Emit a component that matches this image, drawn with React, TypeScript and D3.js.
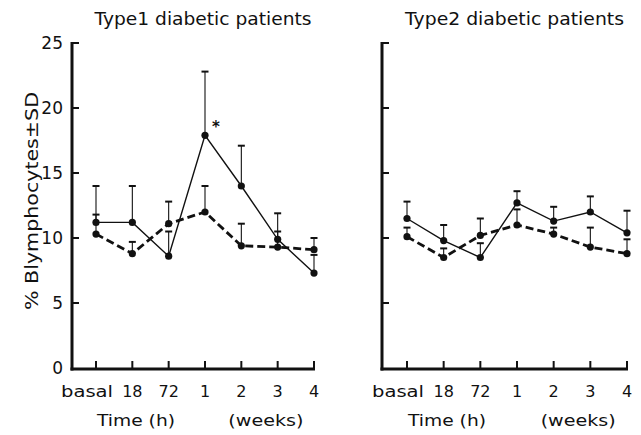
import React from "react";
import * as d3 from "d3";

const categories = ["basal", "18", "72", "1", "2", "3", "4"];
const yTicks = [0, 5, 10, 15, 20, 25];

// Type 1 panel
const t1SolidMean = [11.2, 11.2, 8.6, 17.9, 14.0, 9.9, 7.3];
const t1SolidTop = [14.0, 14.0, 10.5, 22.8, 17.1, 11.9, 8.7];
const t1DashMean = [10.3, 8.8, 11.1, 12.0, 9.4, 9.3, 9.1];
const t1DashTop = [11.8, 9.7, 12.8, 14.0, 11.1, 10.5, 10.0];

// Type 2 panel
const t2SolidMean = [11.5, 9.8, 8.5, 12.7, 11.3, 12.0, 10.4];
const t2SolidTop = [12.8, 11.0, 9.6, 13.6, 12.4, 13.2, 12.1];
const t2DashMean = [10.1, 8.5, 10.2, 11.0, 10.3, 9.3, 8.8];
const t2DashTop = [10.8, 9.2, 11.5, 12.2, 10.8, 10.8, 9.9];

const FONT = "DejaVu Sans, sans-serif";

type PanelProps = {
  axisX: number;
  firstX: number;
  lastX: number;
  title: string;
  titleLen: number;
  showYLabels: boolean;
  solid: number[];
  solidTop: number[];
  dash: number[];
  dashTop: number[];
  star?: number;
};

const y = d3.scaleLinear().domain([0, 25]).range([368, 43]);

function Panel(p: PanelProps) {
  const x = d3.scalePoint<string>().domain(categories).range([p.firstX, p.lastX]);
  const line = d3
    .line<number>()
    .x((_, i) => x(categories[i]) as number)
    .y((d) => y(d));
  const series = [
    { mean: p.solid, top: p.solidTop, dashed: false },
    { mean: p.dash, top: p.dashTop, dashed: true },
  ];
  const axisY = y(0) + 1;
  return (
    <g>
      <text
        x={(p.axisX + p.lastX) / 2 + 10}
        y={25}
        textAnchor="middle"
        fontFamily={FONT}
        fontSize={17}
        textLength={p.titleLen}
        lengthAdjust="spacingAndGlyphs"
        fill="#111"
      >
        {p.title}
      </text>
      {series.map((s, si) =>
        s.mean.map((m, i) => {
          const cx = x(categories[i]) as number;
          return (
            <g key={`e${si}-${i}`}>
              <line x1={cx} x2={cx} y1={y(m)} y2={y(s.top[i])} stroke="#111" strokeWidth={1.1} />
              <line x1={cx - 3.5} x2={cx + 3.5} y1={y(s.top[i])} y2={y(s.top[i])} stroke="#111" strokeWidth={2} />
            </g>
          );
        })
      )}
      <path d={line(p.solid) || ""} fill="none" stroke="#111" strokeWidth={1.4} />
      <path d={line(p.dash) || ""} fill="none" stroke="#111" strokeWidth={2.8} strokeDasharray="8,4" />
      {series.map((s, si) =>
        s.mean.map((m, i) => (
          <circle key={`c${si}-${i}`} cx={x(categories[i]) as number} cy={y(m)} r={3.6} fill="#111" />
        ))
      )}
      {p.star !== undefined && (
        <text
          x={(x(categories[p.star]) as number) + 11}
          y={y(p.solid[p.star]) - 3}
          textAnchor="middle"
          fontFamily={FONT}
          fontSize={15}
          fontWeight="bold"
          fill="#111"
        >
          *
        </text>
      )}
      <line x1={p.axisX} x2={p.axisX} y1={y(25) - 1} y2={axisY + 1.5} stroke="#111" strokeWidth={3} />
      <line x1={p.axisX - 1.5} x2={p.lastX + 1} y1={axisY} y2={axisY} stroke="#111" strokeWidth={3} />
      {yTicks.filter((t) => t > 0).map((t) => (
        <line key={`yt${t}`} x1={p.axisX} x2={p.axisX + 7} y1={y(t)} y2={y(t)} stroke="#111" strokeWidth={2} />
      ))}
      {categories.map((c) => (
        <line key={`xt${c}`} x1={x(c) as number} x2={x(c) as number} y1={axisY} y2={axisY - 8} stroke="#111" strokeWidth={2} />
      ))}
      {p.showYLabels &&
        yTicks.map((t) => (
          <text key={`yl${t}`} x={63} y={y(t) + 6} textAnchor="end" fontFamily={FONT} fontSize={17} fill="#111">
            {t}
          </text>
        ))}
      {categories.map((c, i) => (
        <text
          key={`xl${c}`}
          x={(x(c) as number) + (i === 0 ? -9 : 0)}
          y={397}
          textAnchor="middle"
          fontFamily={FONT}
          fontSize={16}
          fill="#111"
          textLength={i === 0 ? 52 : undefined}
          lengthAdjust="spacingAndGlyphs"
        >
          {c}
        </text>
      ))}
      <text
        x={(x(categories[0]) as number) + 1}
        y={426}
        fontFamily={FONT}
        fontSize={16}
        fill="#111"
        textLength={78}
        lengthAdjust="spacingAndGlyphs"
      >
        Time (h)
      </text>
      <text
        x={(x(categories[4]) as number) - 13}
        y={426}
        fontFamily={FONT}
        fontSize={16}
        fill="#111"
        textLength={75}
        lengthAdjust="spacingAndGlyphs"
      >
        (weeks)
      </text>
    </g>
  );
}

export default function App() {
  return (
    <svg width={641} height={435} style={{ position: "absolute", left: 0, top: 0, background: "#fff" }}>
      <rect width={641} height={435} fill="#fff" />
      <text
        transform="translate(38,201) rotate(-90)"
        textAnchor="middle"
        fontFamily={FONT}
        fontSize={17}
        fill="#111"
        textLength={218}
        lengthAdjust="spacingAndGlyphs"
      >
        % Blymphocytes±SD
      </text>
      <Panel
        axisX={72}
        firstX={96}
        lastX={314}
        title="Type1 diabetic patients"
        titleLen={217}
        showYLabels={true}
        solid={t1SolidMean}
        solidTop={t1SolidTop}
        dash={t1DashMean}
        dashTop={t1DashTop}
        star={3}
      />
      <Panel
        axisX={382}
        firstX={407}
        lastX={627}
        title="Type2 diabetic patients"
        titleLen={219}
        showYLabels={false}
        solid={t2SolidMean}
        solidTop={t2SolidTop}
        dash={t2DashMean}
        dashTop={t2DashTop}
      />
    </svg>
  );
}
